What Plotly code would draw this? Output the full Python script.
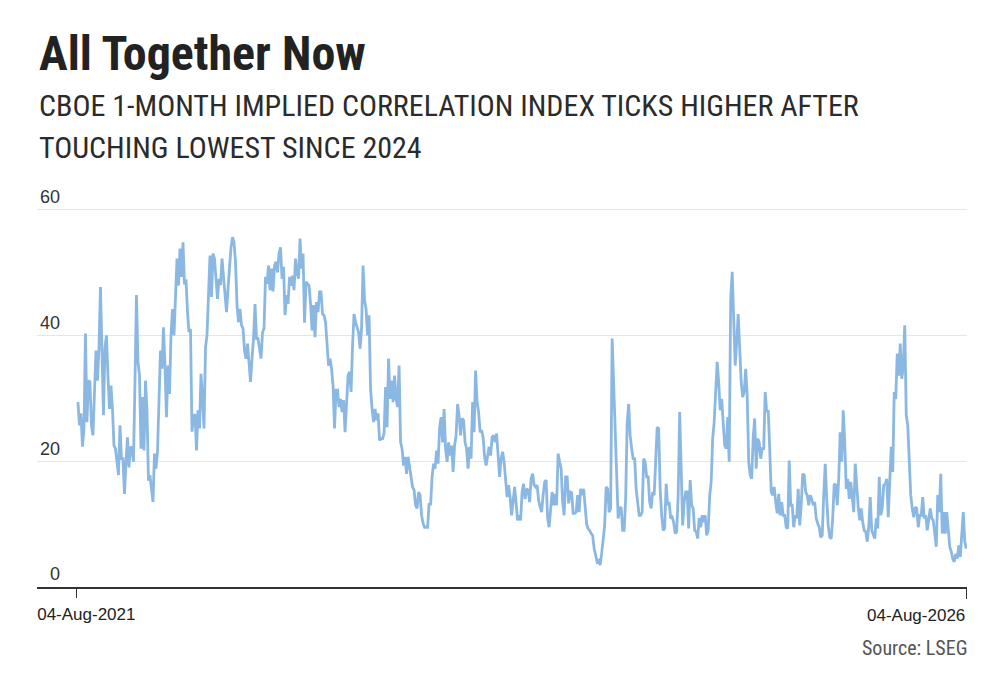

import pandas as pd
import plotly.graph_objects as go

TITLE = "All Together Now"
SUBTITLE_LINES = [
    "CBOE 1-MONTH IMPLIED CORRELATION INDEX TICKS HIGHER AFTER",
    "TOUCHING LOWEST SINCE 2024",
]
SOURCE = "Source: LSEG"

# readings are evenly spaced between these two days
FIRST_DAY = "2021-08-07"
LAST_DAY = "2026-08-03"

corr_aug21_mar22 = [
    29.4, 25.7, 27.6, 22.3, 25, 40.3, 26.2, 32.8, 32.6, 25.7,
    24.1, 30, 37.6, 32.8, 37.9, 47.7, 36.3, 27.3, 38.1, 40,
    33.5, 28.3, 32, 28.3, 22.5, 22, 19.9, 17.8, 25.7, 20.4,
    20.4, 14.8, 19.9, 23.8, 19, 22.3, 22, 19.9, 32.6, 46.4,
    35.8, 33.6, 22, 30.2, 21.7, 32.8, 28, 16.9, 17.8, 15,
    13.5, 21.2, 18.8, 21.5, 31, 37.6, 34.7, 41.3, 35.2, 27,
    35.2, 30.7, 40, 44.2, 40, 47.4, 52.2, 47.9, 53.8, 49.3,
    54.8, 48.1, 48.9, 43.7, 40.5,
]
corr_mar22_nov22 = [
    41, 24.7, 27, 27.5, 21.7, 28.1, 25.2, 33.9, 29.9, 25.2,
    38.1, 40, 46.4, 52.7, 46.1, 53, 52.2, 48, 45.8, 49,
    48, 52.2, 49, 46, 43.7, 47.4, 50.9, 54, 55.6, 54.8,
    51.7, 44.8, 42.1, 44.2, 41.6, 41.1, 37.6, 36.3, 38.7, 35,
    32.6, 36.3, 39.5, 45, 39.5, 39.5, 37.5, 36.3, 40.5, 41.1,
    49.3, 48.2, 51.1, 47.2, 50.6, 47, 51.1, 51.7, 50, 53,
    54, 49, 50.9, 43.2, 46.4, 45, 49.3, 47.9, 49.5, 47.2,
    52.2, 50, 49, 55.4, 50.6, 53, 42,
]
corr_nov22_aug23 = [
    48.5, 48.2, 47.9, 45, 40.8, 44.8, 39.7, 45.3, 43.7, 46.9,
    46.9, 43.4, 43.2, 42.1, 38.9, 35.2, 36.3, 34.7, 32, 25.2,
    31.3, 31.3, 28.6, 29.9, 27.8, 29.7, 24.6, 29.9, 33.6, 34.2,
    31, 38.4, 43.4, 42.1, 41.1, 40.5, 37.9, 41.1, 51.1, 45.6,
    44.2, 40, 43.2, 31.5, 28.3, 26.2, 28.3, 26.5, 27.6, 23.3,
    23.6, 23.6, 24.4, 31.8, 25.4, 36.3, 29.9, 32.8, 29.4, 33.6,
    29.9, 28.6, 35.2, 23, 22, 19.3, 20.7, 18, 20.7, 18.8,
    17.8, 15.9, 15.4, 13, 12.5, 15.1, 14.6, 11.4, 10.1, 9.5,
    9.5, 9.5, 13.3, 13, 17.5,
]
corr_aug23_apr24 = [
    19.6, 18.8, 21.7, 19.6, 25.2, 27, 23, 28.3, 22, 19.9,
    23, 20.9, 22.5, 18.3, 22.5, 24.1, 29.1, 27.3, 24.1, 26.8,
    26.5, 23, 22, 18.8, 22.3, 20.4, 29.4, 24.6, 34.4, 29.4,
    27.8, 24.6, 24.9, 23.8, 20.7, 19.3, 20.9, 22.3, 20.9, 23.8,
    24.1, 23, 24.4, 20.9, 17.5, 20.4, 21.5, 19.9, 16.2, 14.3,
    16.2, 14.3, 11.4, 13.5, 15.9, 13.3, 10.6, 11.4, 10.6, 15.1,
    16.4, 14, 15.6, 15.4, 13.5, 17.2, 18, 16.2, 15.9, 16.2,
    13.8, 12.7, 11.9, 14.6, 16.7, 17, 10.9, 9.5, 11.9, 15.1,
    13, 14.8, 13, 21.2, 19.9, 18.8, 13.5,
]
corr_apr24_jan25 = [
    11.4, 17.5, 17.5, 13.3, 15.1, 15, 11.7, 11.7, 11.9, 14.6,
    11.9, 15.6, 14.6, 15.6, 12, 10, 9.3, 9, 8.5, 8.2,
    6.1, 5, 4, 4.2, 3.5, 5.3, 7.2, 9.8, 15.9, 15.6,
    11.9, 12.5, 39.5, 32, 23.3, 18.8, 10.9, 12.5, 12.7, 9,
    9, 14, 26, 29.1, 24.1, 22, 20.4, 20.4, 15.6, 13.5,
    11.4, 11.4, 11.9, 20.4, 19.9, 17.5, 17.5, 13.5, 12.5, 15.1,
    14.6, 19.9, 25.4, 25.2, 15.6, 11.4, 9, 9.3, 16.4, 13,
    13.5, 10.9, 11.1, 10.3, 8.5, 8.8, 14.6, 27.8, 17.2, 9.8,
    13.5, 15.1, 15.1, 9.3, 17, 13, 12.5,
]
corr_jan25_oct25 = [
    9, 8.8, 7.7, 11, 9.5, 11.4, 10.3, 11.4, 8.2, 9,
    14.5, 16.7, 23.6, 26.2, 31.5, 35.8, 32.6, 28.1, 29.9, 26.8,
    22.5, 22, 27, 19.9, 45.8, 50.1, 42.6, 35.2, 38.9, 43.4,
    38, 32.6, 30.2, 31, 34.7, 30.5, 19.9, 17.8, 17.2, 23.8,
    26.8, 18.8, 23.6, 23, 20.4, 22, 22, 31, 27.8, 28.1,
    22, 15.1, 14.6, 15.9, 13.5, 11.7, 14.8, 11.4, 13.5, 11.4,
    11.4, 9.5, 9.3, 20.1, 13, 13, 9.5, 11.4, 10.9, 15.6,
    9.8, 13, 18, 17.8, 15.1, 14.6, 13, 14.6, 14, 13,
    13.5, 10.9, 10.1, 9.5, 7.9, 8.2, 14.6, 19.6, 14,
]
corr_oct25_aug26 = [
    9.8, 7.9, 7.7, 11, 16.4, 16.2, 13, 17.2, 24.6, 19.9,
    28.1, 23, 15.6, 17.2, 14, 16.7, 14.6, 11.9, 19.6, 15.1,
    12.7, 10.6, 12.5, 10.3, 9, 8.8, 7.2, 9.5, 14.3, 9,
    8.2, 7.7, 10.9, 9.3, 17.5, 11.4, 12.5, 16.2, 16.4, 17.2,
    11.1, 17.2, 22.3, 18.3, 31, 29.9, 37.1, 33.6, 38.7, 33.1,
    35, 41.6, 27.3, 25.7, 18.8, 14.6, 12.5, 11.1, 12.7, 12.5,
    9.5, 11.4, 11.4, 14.3, 10.9, 11.4, 9, 10.9, 12.5, 10.9,
    10.6, 8.5, 6.4, 14.6, 11.9, 18, 8.5, 11.9, 8.5, 11.9,
    9.5, 6.4, 5.6, 4.5, 4, 5.3, 4.5, 6.6, 4.8, 7.9,
    11.9, 7.2, 6.1,
]

Y_TICKS = [0, 20, 40, 60]
X_TICKS = ["2021-08-04", "2026-08-04"]
X_TICK_TEXT = ["04-Aug-2021", "04-Aug-2026"]
X_RANGE = ["2021-05-15", "2026-08-04 12:00"]

LINE_COLOR = "#8bb8e3"
NARROW = "Roboto Condensed, Roboto"
REGULAR = "Liberation Sans, Arial, Roboto"

# drop the page's default 8px body margin so the figure fills the window
NO_BODY_MARGIN = "document.body.style.margin='0';"


def main() -> None:
    values = (
        corr_aug21_mar22 + corr_mar22_nov22 + corr_nov22_aug23 + corr_aug23_apr24
        + corr_apr24_jan25 + corr_jan25_oct25 + corr_oct25_aug26
    )
    dates = pd.date_range(FIRST_DAY, LAST_DAY, periods=len(values))

    fig = go.Figure()
    fig.add_trace(
        go.Scatter(
            x=dates,
            y=values,
            mode="lines",
            line=dict(color=LINE_COLOR, width=2.8),
            hoverinfo="skip",
            showlegend=False,
        )
    )
    # empty trace so the second (label-only) date axis gets drawn
    fig.add_trace(go.Scatter(x=[], y=[], xaxis="x2", yaxis="y", showlegend=False))

    axis_common = dict(
        type="date",
        range=X_RANGE,
        ticks="outside",
        ticklen=10,
        tickwidth=1.4,
        tickcolor="#333",
        ticklabelstandoff=12,
        showgrid=False,
        zeroline=False,
        tickfont=dict(family=REGULAR, size=17, color="#222"),
    )
    # one axis per end label so each can hug its own side of the plot
    fig.update_layout(
        xaxis=dict(
            **axis_common,
            tickvals=[X_TICKS[1]],
            ticktext=[X_TICK_TEXT[1]],
            ticklabelposition="outside left",
            showline=True,
            linecolor="#333",
            linewidth=1.5,
        ),
        xaxis2=dict(
            **axis_common,
            overlaying="x",
            anchor="y",
            side="bottom",
            tickvals=[X_TICKS[0]],
            ticktext=[X_TICK_TEXT[0]],
            ticklabelposition="outside right",
            ticklabelshift=-40,
            showline=False,
        ),
        yaxis=dict(
            range=[0, 62],
            tickvals=Y_TICKS,
            ticktext=[("\u2007" if v < 10 else "") + str(v) for v in Y_TICKS],
            ticklabelposition="inside",
            ticklabelshift=-13,
            ticklabeloverflow="allow",
            ticks="",
            showline=False,
            zeroline=False,
            showgrid=True,
            gridcolor="#e6e6e6",
            gridwidth=1,
            tickfont=dict(family=REGULAR, size=18, color="#333"),
        ),
        width=993,
        height=678,
        margin=dict(l=37, r=26, t=197, b=91),
        paper_bgcolor="white",
        plot_bgcolor="white",
        showlegend=False,
    )

    plot_h = 678 - 197 - 91

    def paper_y(px: float) -> float:
        return (678 - 91 - px) / plot_h

    fig.add_annotation(
        text=TITLE, xref="paper", yref="paper", x=0, y=paper_y(53),
        xanchor="left", yanchor="middle", showarrow=False,
        font=dict(family=NARROW, size=48, color="#222", weight="bold"),
    )
    for line, px in zip(SUBTITLE_LINES, [106, 147.5]):
        fig.add_annotation(
            text=line, xref="paper", yref="paper", x=0, y=paper_y(px),
            xanchor="left", yanchor="middle", showarrow=False,
            font=dict(family=NARROW, size=30, color="#2b2b2b"),
        )
    fig.add_annotation(
        text=SOURCE, xref="paper", yref="paper", x=1, y=paper_y(648), xshift=3,
        xanchor="right", yanchor="middle", showarrow=False,
        font=dict(family=NARROW, size=20, color="#555"),
    )

    fig.write_html("out.html", config={"displayModeBar": False}, post_script=NO_BODY_MARGIN)


if __name__ == "__main__":
    main()
